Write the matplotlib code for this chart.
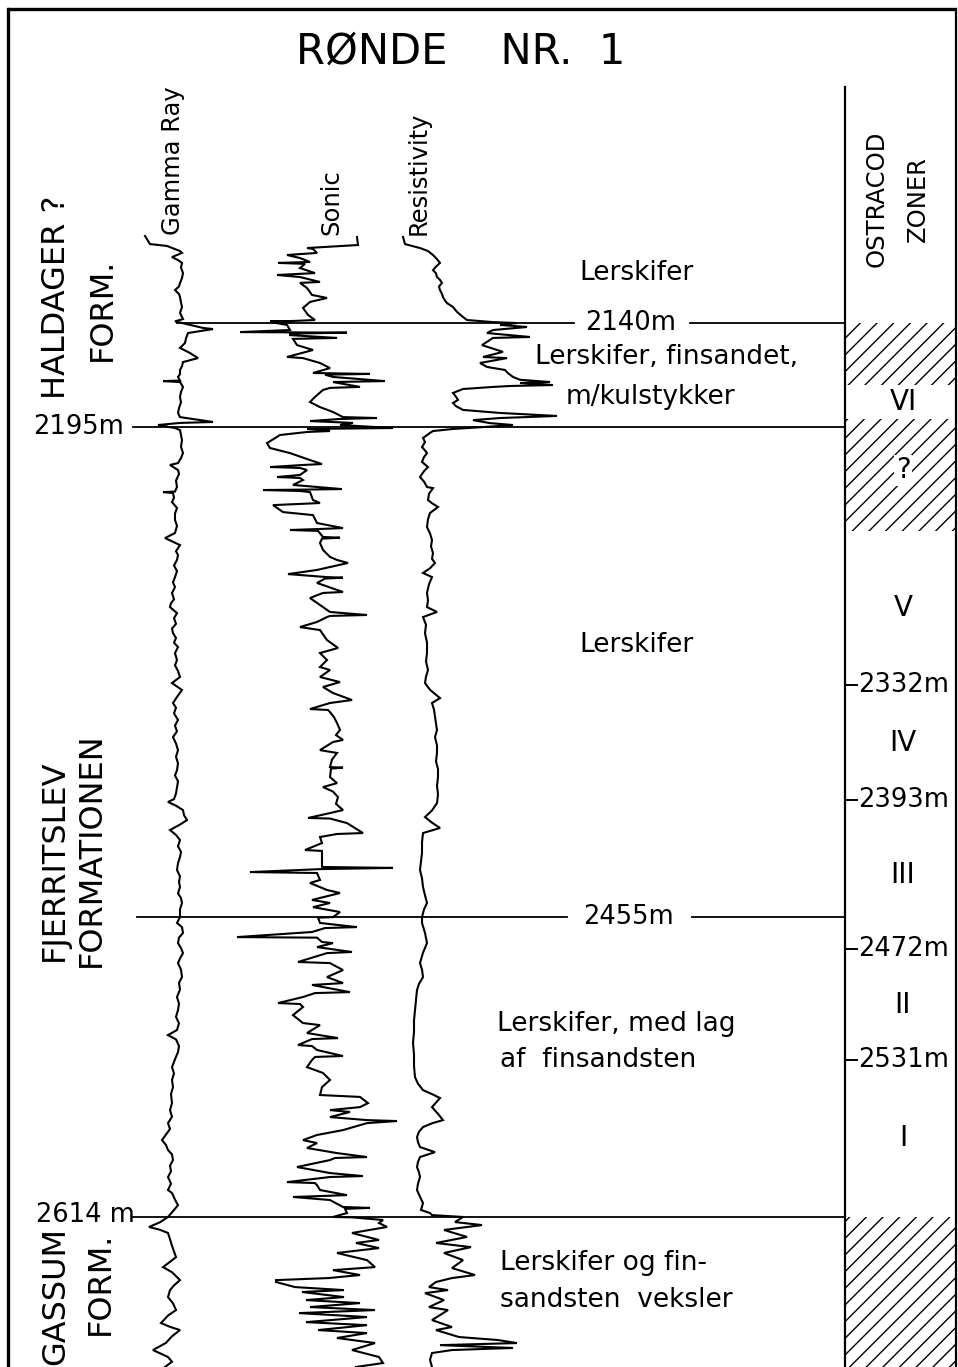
import numpy as np
import matplotlib
matplotlib.use("Agg")
import matplotlib.pyplot as plt
from matplotlib.patches import Rectangle

plt.rcParams['font.family'] = ['DejaVu Sans']
plt.rcParams['hatch.linewidth'] = 1.0

# ---------------- data ----------------
TITLE = "RØNDE    NR.  1"
LOG_NAMES = ["Gamma Ray", "Sonic", "Resistivity"]

FORMATION_LINES = [2140, 2195, 2455, 2614]
OSTRACOD_TICKS = [2332, 2393, 2472, 2531]
OSTRACOD_ZONES = ["VI", "?", "V", "IV", "III", "II", "I"]
ZONE_TOP = [2173, 2191, 2250, 2332, 2393, 2472, 2531]
ZONE_BASE = [2191, 2245, 2332, 2393, 2472, 2531, 2614]
HATCHED_TOP = [2140, 2191, 2614]
HATCHED_BASE = [2173, 2250, 2700]

# (depth m, reading in track units)
GAMMA = [
    (2093.7, 45), (2098.0, 50), (2099.0, 67), (2101.7, 80), (2102.7, 82), (2104.9, 72), (2106.5, 78),
    (2108.0, 82), (2110.5, 81), (2113.4, 83), (2116.0, 82), (2118.7, 80), (2120.5, 79), (2122.4, 75),
    (2124.5, 79), (2126.1, 80), (2129.0, 81), (2131.4, 82), (2134.5, 80), (2137.8, 83), (2139.0, 75),
    (2140.9, 90), (2142.5, 103), (2143.1, 113), (2145.2, 88), (2148.0, 86), (2150.5, 85), (2153.1, 80),
    (2155.8, 90), (2158.5, 98), (2160.6, 83), (2162.8, 82), (2164.8, 80), (2167.0, 80), (2168.5, 78),
    (2170.4, 80), (2170.7, 63), (2171.2, 80), (2173.8, 83), (2176.5, 81), (2179.1, 80), (2182.0, 81),
    (2185.0, 79), (2187.6, 78), (2189.8, 80), (2191.4, 100), (2192.4, 113), (2192.9, 80), (2194.0, 58),
    (2195.6, 75), (2196.7, 80), (2199.5, 81), (2202.0, 82), (2205.5, 81), (2208.9, 83), (2211.5, 81),
    (2214.2, 78), (2215.2, 70), (2217.9, 78), (2220.0, 79), (2223.5, 76), (2226.9, 77), (2229.3, 75),
    (2229.6, 63), (2230.1, 73), (2232.5, 74), (2234.9, 72), (2238.0, 77), (2241.0, 75), (2244.4, 75),
    (2247.5, 77), (2251.3, 75), (2254.0, 65), (2257.7, 80), (2261.0, 76), (2263.0, 78), (2265.6, 77),
    (2268.5, 74), (2271.5, 77), (2274.7, 75), (2277.5, 73), (2280.0, 75), (2283.1, 72), (2286.5, 74),
    (2288.5, 71), (2290.6, 70), (2293.8, 77), (2296.5, 74), (2299.5, 76), (2302.0, 72), (2304.4, 73),
    (2307.0, 76), (2309.5, 74), (2311.8, 78), (2315.0, 75), (2318.7, 77), (2321.5, 75), (2324.5, 78),
    (2327.7, 80), (2330.9, 72), (2334.6, 82), (2337.5, 78), (2341.5, 73), (2344.0, 76), (2347.0, 74),
    (2350.5, 78), (2353.5, 75), (2356.5, 77), (2359.6, 73), (2363.0, 76), (2366.5, 78), (2370.0, 76),
    (2373.5, 78), (2377.1, 77), (2380.0, 75), (2383.0, 78), (2386.1, 77), (2389.5, 76), (2392.5, 74),
    (2394.0, 68), (2396.0, 76), (2398.3, 83), (2401.0, 84), (2403.6, 87), (2406.0, 80), (2408.9, 70),
    (2411.5, 76), (2414.2, 80), (2417.5, 78), (2420.5, 81), (2423.2, 80), (2426.5, 78), (2430.1, 77),
    (2433.5, 80), (2436.5, 79), (2439.1, 80), (2442.5, 78), (2445.0, 81), (2447.6, 82), (2451.0, 80),
    (2455.1, 80), (2458.2, 77), (2460.4, 82), (2463.5, 83), (2466.0, 79), (2468.9, 78), (2471.5, 81),
    (2474.2, 83), (2477.0, 80), (2479.5, 78), (2483.0, 81), (2486.9, 82), (2490.0, 79), (2493.5, 80),
    (2497.5, 77), (2501.0, 79), (2504.4, 78), (2508.0, 76), (2511.5, 79), (2515.0, 77), (2517.7, 68),
    (2520.0, 76), (2523.5, 79), (2526.7, 78), (2530.5, 75), (2534.7, 72), (2538.0, 74), (2541.5, 72),
    (2545.3, 73), (2549.0, 71), (2553.8, 72), (2557.5, 70), (2561.0, 72), (2564.4, 68), (2567.5, 70),
    (2570.5, 66), (2573.4, 62), (2576.0, 66), (2578.7, 68), (2581.0, 72), (2584.0, 73), (2587.0, 70),
    (2590.0, 71), (2593.0, 68), (2596.5, 71), (2599.9, 68), (2601.5, 72), (2605.0, 75), (2607.9, 78),
    (2610.5, 74), (2614.2, 68), (2617.0, 60), (2619.5, 49), (2621.0, 60), (2622.7, 68), (2626.0, 70),
    (2629.5, 72), (2632.5, 74), (2635.5, 76), (2638.0, 70), (2640.8, 63), (2643.5, 72), (2647.7, 80),
    (2650.5, 74), (2653.0, 70), (2656.7, 68), (2660.0, 73), (2663.6, 76), (2666.5, 68), (2670.5, 61),
    (2672.5, 70), (2674.2, 80), (2677.5, 72), (2681.0, 66), (2684.8, 53), (2686.5, 60), (2688.5, 68),
    (2691.0, 72), (2693.8, 65),
]

SONIC = [
    (2094.3, 157), (2098.5, 158), (2100.1, 107), (2100.6, 113), (2102.7, 117), (2103.8, 87), (2105.4, 100),
    (2107.5, 110), (2108.0, 78), (2108.5, 105), (2110.7, 100), (2113.4, 115), (2114.4, 77), (2115.5, 100),
    (2118.1, 120), (2118.6, 100), (2121.3, 107), (2125.0, 112), (2126.6, 127), (2128.7, 110), (2131.9, 103),
    (2135.6, 108), (2138.3, 115), (2138.8, 93), (2139.0, 70), (2139.3, 92), (2139.5, 72), (2140.9, 87),
    (2143.6, 90), (2144.7, 40), (2145.0, 147), (2145.5, 90), (2146.3, 90), (2147.8, 137), (2148.3, 93),
    (2151.6, 97), (2154.2, 113), (2157.9, 87), (2158.5, 103), (2161.1, 120), (2163.8, 130), (2166.4, 113),
    (2166.9, 170), (2167.3, 125), (2168.5, 133), (2170.7, 185), (2171.2, 133), (2173.8, 160), (2174.3, 130),
    (2175.4, 123), (2179.1, 115), (2181.8, 110), (2184.5, 120), (2187.1, 133), (2189.8, 143), (2190.3, 177),
    (2190.8, 140), (2191.9, 110), (2192.9, 153), (2194.0, 140), (2195.6, 193), (2196.1, 107), (2196.6, 125),
    (2197.2, 130), (2197.7, 107), (2199.3, 80), (2203.6, 67), (2206.2, 70), (2208.9, 90), (2212.6, 110),
    (2214.7, 122), (2215.3, 100), (2216.3, 70), (2216.8, 100), (2217.9, 107), (2220.5, 100), (2221.6, 77),
    (2222.1, 100), (2223.2, 103), (2225.8, 93), (2228.0, 142), (2228.3, 100), (2228.5, 63), (2229.0, 100),
    (2229.6, 110), (2233.8, 113), (2235.4, 120), (2236.5, 73), (2240.2, 83), (2241.8, 113), (2246.0, 117),
    (2248.7, 143), (2249.2, 118), (2249.7, 90), (2250.2, 118), (2253.4, 123), (2253.8, 140), (2254.3, 122),
    (2256.6, 120), (2260.3, 123), (2264.0, 130), (2265.6, 137), (2267.2, 148), (2270.9, 117), (2273.1, 88),
    (2274.7, 127), (2275.0, 143), (2275.5, 125), (2277.8, 117), (2282.6, 143), (2283.1, 123), (2285.8, 110),
    (2290.6, 123), (2293.2, 130), (2294.8, 167), (2295.3, 130), (2295.9, 127), (2298.5, 117), (2301.2, 100),
    (2302.8, 120), (2308.1, 127), (2312.3, 138), (2315.0, 120), (2318.7, 127), (2322.4, 120), (2324.0, 130),
    (2327.7, 120), (2330.4, 140), (2333.0, 123), (2336.2, 133), (2339.9, 152), (2341.5, 130), (2344.7, 110),
    (2345.2, 128), (2346.3, 130), (2349.0, 134), (2352.1, 137), (2355.8, 140), (2358.5, 136), (2361.1, 143),
    (2362.2, 133), (2366.5, 120), (2368.0, 137), (2371.5, 132), (2375.5, 130), (2375.8, 143), (2376.3, 131),
    (2380.8, 130), (2384.0, 137), (2386.1, 123), (2388.5, 133), (2391.4, 138), (2395.0, 136), (2398.3, 143),
    (2399.9, 130), (2402.5, 108), (2402.8, 130), (2405.2, 147), (2410.5, 163), (2411.0, 137), (2412.6, 120),
    (2415.8, 122), (2419.5, 105), (2420.0, 122), (2423.2, 122), (2428.5, 122), (2429.0, 193), (2429.6, 122),
    (2431.2, 50), (2431.7, 117), (2435.4, 120), (2437.0, 110), (2440.7, 127), (2442.3, 140), (2446.0, 112),
    (2447.6, 130), (2449.8, 113), (2452.4, 140), (2455.1, 133), (2455.4, 118), (2458.2, 120), (2460.4, 157),
    (2460.9, 125), (2463.0, 112), (2465.7, 37), (2466.0, 117), (2468.3, 122), (2468.9, 133), (2471.0, 117),
    (2473.6, 152), (2474.2, 127), (2478.9, 98), (2479.5, 130), (2483.2, 143), (2486.9, 127), (2490.1, 143),
    (2491.1, 112), (2494.9, 150), (2495.4, 115), (2497.5, 103), (2500.7, 78), (2501.2, 100), (2502.8, 103),
    (2507.1, 93), (2511.3, 103), (2512.4, 120), (2516.6, 107), (2519.3, 138), (2519.8, 112), (2523.0, 98),
    (2523.5, 112), (2525.6, 117), (2528.8, 143), (2529.3, 115), (2530.9, 112), (2534.7, 107), (2537.8, 123),
    (2541.5, 130), (2545.3, 122), (2549.5, 120), (2550.5, 160), (2553.8, 168), (2555.9, 160), (2557.5, 130),
    (2558.5, 150), (2561.2, 130), (2562.8, 167), (2563.3, 197), (2564.4, 167), (2568.1, 143), (2570.7, 117),
    (2573.4, 103), (2575.0, 117), (2577.6, 107), (2580.3, 137), (2582.4, 167), (2582.9, 135), (2584.0, 130),
    (2587.7, 97), (2590.9, 130), (2592.5, 163), (2593.0, 130), (2595.7, 87), (2596.2, 115), (2597.3, 117),
    (2599.9, 120), (2602.6, 147), (2603.6, 93), (2605.2, 130), (2608.9, 143), (2609.4, 170), (2609.9, 145),
    (2612.1, 147), (2614.2, 133), (2614.4, 152), (2615.8, 183), (2617.4, 179), (2619.5, 187), (2622.7, 152),
    (2626.4, 179), (2628.0, 156), (2630.7, 179), (2633.3, 137), (2637.1, 167), (2640.8, 175), (2642.4, 133),
    (2645.0, 160), (2646.6, 129), (2647.7, 76), (2648.7, 76), (2651.4, 95), (2653.0, 144), (2654.0, 102),
    (2656.7, 144), (2658.3, 106), (2659.9, 160), (2662.0, 110), (2663.6, 175), (2665.2, 99), (2667.3, 167),
    (2670.0, 106), (2671.6, 167), (2674.2, 118), (2675.8, 167), (2678.4, 137), (2681.1, 175), (2684.8, 152),
    (2688.5, 179), (2691.7, 183), (2693.8, 156),
]

RESISTIVITY = [
    (2094.2, 23), (2098.0, 25), (2100.1, 40), (2101.7, 48), (2103.8, 53), (2106.0, 57), (2108.0, 60),
    (2110.0, 56), (2111.8, 53), (2113.5, 56), (2115.5, 57), (2117.0, 60), (2118.6, 62), (2120.5, 59),
    (2122.4, 60), (2124.5, 62), (2126.1, 63), (2128.0, 65), (2129.3, 67), (2131.4, 73), (2134.0, 77),
    (2136.7, 83), (2138.3, 87), (2139.4, 113), (2139.9, 137), (2140.9, 120), (2142.0, 147), (2143.6, 113),
    (2145.2, 107), (2147.3, 150), (2147.8, 113), (2149.5, 108), (2151.6, 102), (2154.2, 117), (2155.2, 123),
    (2157.9, 103), (2158.5, 127), (2161.1, 100), (2163.2, 107), (2164.8, 125), (2166.5, 128), (2168.5, 133),
    (2170.0, 140), (2171.2, 170), (2171.7, 140), (2172.8, 173), (2173.3, 130), (2173.8, 113), (2174.9, 83),
    (2177.0, 73), (2179.0, 76), (2180.7, 78), (2182.3, 73), (2184.0, 76), (2186.0, 83), (2187.6, 120),
    (2189.2, 177), (2190.3, 120), (2191.4, 93), (2193.0, 110), (2194.0, 133), (2195.1, 103), (2196.1, 73),
    (2197.2, 53), (2198.2, 50), (2200.9, 43), (2203.0, 45), (2205.7, 42), (2207.5, 45), (2208.9, 47),
    (2211.0, 44), (2213.6, 42), (2216.3, 48), (2218.5, 44), (2221.6, 40), (2224.0, 44), (2226.9, 47),
    (2227.5, 53), (2230.5, 49), (2233.8, 48), (2235.5, 52), (2237.5, 58), (2240.7, 50), (2244.0, 48),
    (2248.1, 47), (2251.5, 50), (2255.0, 52), (2258.5, 51), (2261.9, 53), (2265.0, 52), (2267.2, 55),
    (2270.0, 50), (2272.5, 43), (2274.7, 52), (2278.5, 49), (2283.1, 47), (2287.0, 48), (2290.6, 47),
    (2293.2, 57), (2295.9, 43), (2300.0, 46), (2304.4, 45), (2309.5, 47), (2315.0, 47), (2319.5, 46),
    (2324.0, 48), (2327.5, 46), (2330.9, 45), (2334.5, 50), (2338.9, 60), (2341.5, 52), (2345.0, 54),
    (2348.9, 55), (2352.5, 56), (2355.8, 57), (2359.6, 55), (2364.0, 57), (2368.0, 57), (2372.5, 56),
    (2376.5, 58), (2380.8, 58), (2385.5, 57), (2390.0, 58), (2394.6, 57), (2398.5, 52), (2402.0, 45),
    (2405.0, 52), (2407.8, 60), (2410.5, 43), (2415.5, 42), (2421.1, 42), (2425.5, 41), (2430.1, 40),
    (2434.5, 42), (2439.1, 43), (2443.5, 45), (2447.6, 47), (2451.0, 44), (2455.1, 42), (2458.2, 42),
    (2463.5, 45), (2468.9, 47), (2474.0, 43), (2479.5, 40), (2483.0, 42), (2486.9, 43), (2490.5, 39),
    (2493.8, 37), (2499.0, 36), (2504.4, 35), (2510.0, 34), (2516.0, 34), (2521.9, 33), (2528.0, 34),
    (2534.0, 34), (2540.0, 35), (2543.5, 38), (2546.9, 43), (2549.0, 52), (2551.1, 60), (2553.5, 56),
    (2555.9, 52), (2559.5, 58), (2562.8, 63), (2564.5, 52), (2566.5, 43), (2569.0, 39), (2571.8, 37),
    (2574.5, 38), (2577.1, 40), (2579.8, 55), (2582.4, 40), (2585.0, 38), (2587.7, 37), (2590.5, 39),
    (2593.0, 40), (2596.5, 38), (2599.9, 37), (2603.5, 40), (2606.8, 43), (2610.5, 41), (2612.1, 50),
    (2613.2, 52), (2614.2, 83), (2616.9, 75), (2618.5, 102), (2621.1, 64), (2624.8, 87), (2628.0, 56),
    (2630.2, 91), (2633.3, 64), (2637.1, 83), (2641.3, 72), (2645.0, 95), (2646.6, 72), (2648.7, 56),
    (2651.4, 49), (2653.0, 68), (2654.6, 45), (2658.3, 64), (2662.0, 49), (2663.6, 68), (2668.9, 52),
    (2672.6, 72), (2674.2, 56), (2677.9, 79), (2679.5, 118), (2681.1, 137), (2682.2, 60), (2683.7, 133),
    (2684.8, 72), (2686.4, 52), (2690.0, 50), (2693.8, 52),
]

LITHOLOGY = ["Lerskifer", "Lerskifer, finsandet,", "m/kulstykker", "Lerskifer",
             "Lerskifer, med lag", "af  finsandsten", "Lerskifer og fin-", "sandsten  veksler"]

# ---------------- layout ----------------
W, H = 958, 1367
DEPTH_TOP, DEPTH_BOTTOM = 1968.5, 2693.8
TRACK_ORIGIN = {"Gamma Ray": 100, "Sonic": 200, "Resistivity": 380}
COL_X = 845
RIGHT_X = 956

fig = plt.figure(figsize=(W / 100, H / 100), dpi=100)
lay = fig.add_axes([0, 0, 1, 1])
lay.set_xlim(0, W)
lay.set_ylim(H, 0)
lay.axis('off')

ax = fig.add_axes([0, 0, 1, 1])
ax.set_xlim(0, W)
ax.set_ylim(DEPTH_BOTTOM, DEPTH_TOP)
ax.axis('off')
ax.patch.set_alpha(0)

k = 'black'
# frame
lay.plot([8, RIGHT_X], [9, 9], color=k, lw=2.4, solid_capstyle='butt')
lay.plot([8, 8], [9, H], color=k, lw=2.4)
lay.plot([RIGHT_X, RIGHT_X], [9, H], color=k, lw=1.6)
lay.plot([COL_X, COL_X], [87, H], color=k, lw=1.6)

# title
lay.text(461, 52, TITLE, ha='center', va='center', fontsize=30)

# log headers
for name, xc in zip(LOG_NAMES, [173, 331, 419]):
    lay.text(xc, 235, name, rotation=90, rotation_mode='anchor', ha='left',
             va='center', fontsize=17.5)

# log curves
for name, data in zip(LOG_NAMES, [GAMMA, SONIC, RESISTIVITY]):
    arr = np.array(data)
    ax.plot(TRACK_ORIGIN[name] + arr[:, 1], arr[:, 0], color=k, lw=1.5,
            solid_joinstyle='miter')

# formation boundary lines (with gaps for labels)
segments = {2140: [(177, 574), (690, COL_X)], 2195: [(133, COL_X)],
            2455: [(137, 567), (692, COL_X)], 2614: [(133, COL_X)]}
for d in FORMATION_LINES:
    for x0, x1 in segments[d]:
        ax.plot([x0, x1], [d, d], color=k, lw=1.3)
ax.text(631, 2140, f"{FORMATION_LINES[0]}m", ha='center', va='center', fontsize=18.5)
ax.text(629, 2455, f"{FORMATION_LINES[2]}m", ha='center', va='center', fontsize=18.5)
ax.text(33, 2195, f"{FORMATION_LINES[1]}m", ha='left', va='center', fontsize=18.5)
ax.text(36, 2613, f"{FORMATION_LINES[3]} m", ha='left', va='center', fontsize=18.5)

# formation names (rotated)
for s, x, y in [("HALDAGER ?", 57, 297), ("FORM.", 102, 309),
                ("FJERRITSLEV", 54, 860), ("FORMATIONEN", 91, 850),
                ("GASSUM", 56, 1296), ("FORM.", 100, 1283)]:
    lay.text(x, y, s, rotation=90, rotation_mode='anchor', ha='center', va='center',
             fontsize=23)

# lithology descriptions
for s, x, y, ha in zip(LITHOLOGY,
                       [637, 535, 566, 637, 497, 500, 500, 500],
                       [273, 357, 397, 645, 1024, 1060, 1263, 1300],
                       ['center', 'left', 'left', 'center', 'left', 'left', 'left', 'left']):
    lay.text(x, y, s, ha=ha, va='center', fontsize=19)

# ostracod column
lay.text(877, 199, "OSTRACOD", rotation=90, rotation_mode='anchor', ha='center',
         va='center', fontsize=17.5)
lay.text(918, 199, "ZONER", rotation=90, rotation_mode='anchor', ha='center',
         va='center', fontsize=17.5)
for t, b in zip(HATCHED_TOP, HATCHED_BASE):
    ax.add_patch(Rectangle((COL_X, t), RIGHT_X - COL_X, b - t, fill=False,
                           hatch='//', edgecolor=k, lw=0))
for d in OSTRACOD_TICKS:
    ax.plot([COL_X, COL_X + 12], [d, d], color=k, lw=1.4)
    ax.text(COL_X + 13, d, f"{d}m", ha='left', va='center', fontsize=18.5)
for z, t, b in zip(OSTRACOD_ZONES, ZONE_TOP, ZONE_BASE):
    ax.text(903, (t + b) / 2, z, ha='center', va='center', fontsize=20,
            bbox=dict(facecolor='white', edgecolor='none', pad=1) if z == "?" else None)

fig.savefig("out.png", dpi=100)
